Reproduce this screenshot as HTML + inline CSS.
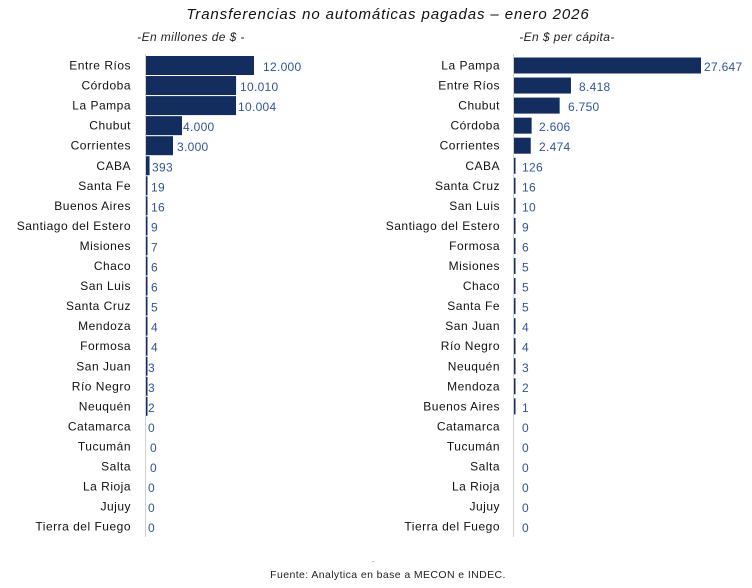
<!DOCTYPE html>
<html><head><meta charset="utf-8"><style>
html,body{margin:0;padding:0;background:#fff;width:752px;height:588px;overflow:hidden}
svg{display:block;font-family:"Liberation Sans",sans-serif}
.l{font-size:12px;fill:#111;text-anchor:end;letter-spacing:0.5px}
.v{font-size:12px;fill:#2f5597;letter-spacing:0.3px}
</style></head><body>
<svg width="752" height="588" xmlns="http://www.w3.org/2000/svg">
<text x="388" y="19" font-size="15" font-style="italic" text-anchor="middle" fill="#111" letter-spacing="0.9">Transferencias no automáticas pagadas – enero 2026</text>
<text x="191" y="41" font-size="12" font-style="italic" text-anchor="middle" fill="#222" letter-spacing="0.4">-En millones de $ -</text>
<text x="567" y="41" font-size="12" font-style="italic" text-anchor="middle" fill="#222" letter-spacing="0.4">-En $ per cápita-</text>
<line x1="145.5" y1="54" x2="145.5" y2="537" stroke="#d0d0d0"/>
<line x1="513.5" y1="54" x2="513.5" y2="537" stroke="#d0d0d0"/>
<g id="L"></g><g id="R"></g>
<text x="372" y="562" font-size="8" fill="#444">.</text>
<text x="388" y="578" font-size="10.5" text-anchor="middle" fill="#222" letter-spacing="0.4">Fuente: Analytica en base a MECON e INDEC.</text>
</svg>
<script>
var L=[["Entre Ríos",12000,"12.000",263],["Córdoba",10010,"10.010",240],["La Pampa",10004,"10.004",238],["Chubut",4000,"4.000",183],["Corrientes",3000,"3.000",177],["CABA",393,"393",152],["Santa Fe",19,"19",151],["Buenos Aires",16,"16",151],["Santiago del Estero",9,"9",151],["Misiones",7,"7",151],["Chaco",6,"6",151],["San Luis",6,"6",151],["Santa Cruz",5,"5",151],["Mendoza",4,"4",151],["Formosa",4,"4",151],["San Juan",3,"3",148],["Río Negro",3,"3",148],["Neuquén",2,"2",148],["Catamarca",0,"0",148],["Tucumán",0,"0",150],["Salta",0,"0",150],["La Rioja",0,"0",148],["Jujuy",0,"0",148],["Tierra del Fuego",0,"0",148]];
var R=[["La Pampa",27647,"27.647",704],["Entre Ríos",8418,"8.418",579],["Chubut",6750,"6.750",568],["Córdoba",2606,"2.606",539],["Corrientes",2474,"2.474",539],["CABA",126,"126",522],["Santa Cruz",16,"16",522],["San Luis",10,"10",522],["Santiago del Estero",9,"9",522],["Formosa",6,"6",522],["Misiones",5,"5",522],["Chaco",5,"5",522],["Santa Fe",5,"5",522],["San Juan",4,"4",522],["Río Negro",4,"4",522],["Neuquén",3,"3",522],["Mendoza",2,"2",522],["Buenos Aires",1,"1",522],["Catamarca",0,"0",522],["Tucumán",0,"0",522],["Salta",0,"0",522],["La Rioja",0,"0",522],["Jujuy",0,"0",522],["Tierra del Fuego",0,"0",522]];
function draw(id,d,ax,lx,max,w,bh){var s="";d.forEach(function(r,i){var cy=65.5+i*20.05;
var bw=r[1]/max*w; if(r[1]>0&&bw<1.5)bw=1.5;
if(r[1]>0)s+='<rect x="'+ax+'" y="'+(cy-bh/2)+'" width="'+bw+'" height="'+bh+'" fill="#132d5e"/>';
s+='<text class="l" x="'+lx+'" y="'+(cy+4)+'">'+r[0]+'</text>';
s+='<text class="v" x="'+r[3]+'" y="'+(cy+5.5)+'">'+r[2]+'</text>';});
document.getElementById(id).innerHTML=s;}
draw("L",L,146,131,12000,108,19);
draw("R",R,514,500,27647,187,16);
</script>
</body></html>
